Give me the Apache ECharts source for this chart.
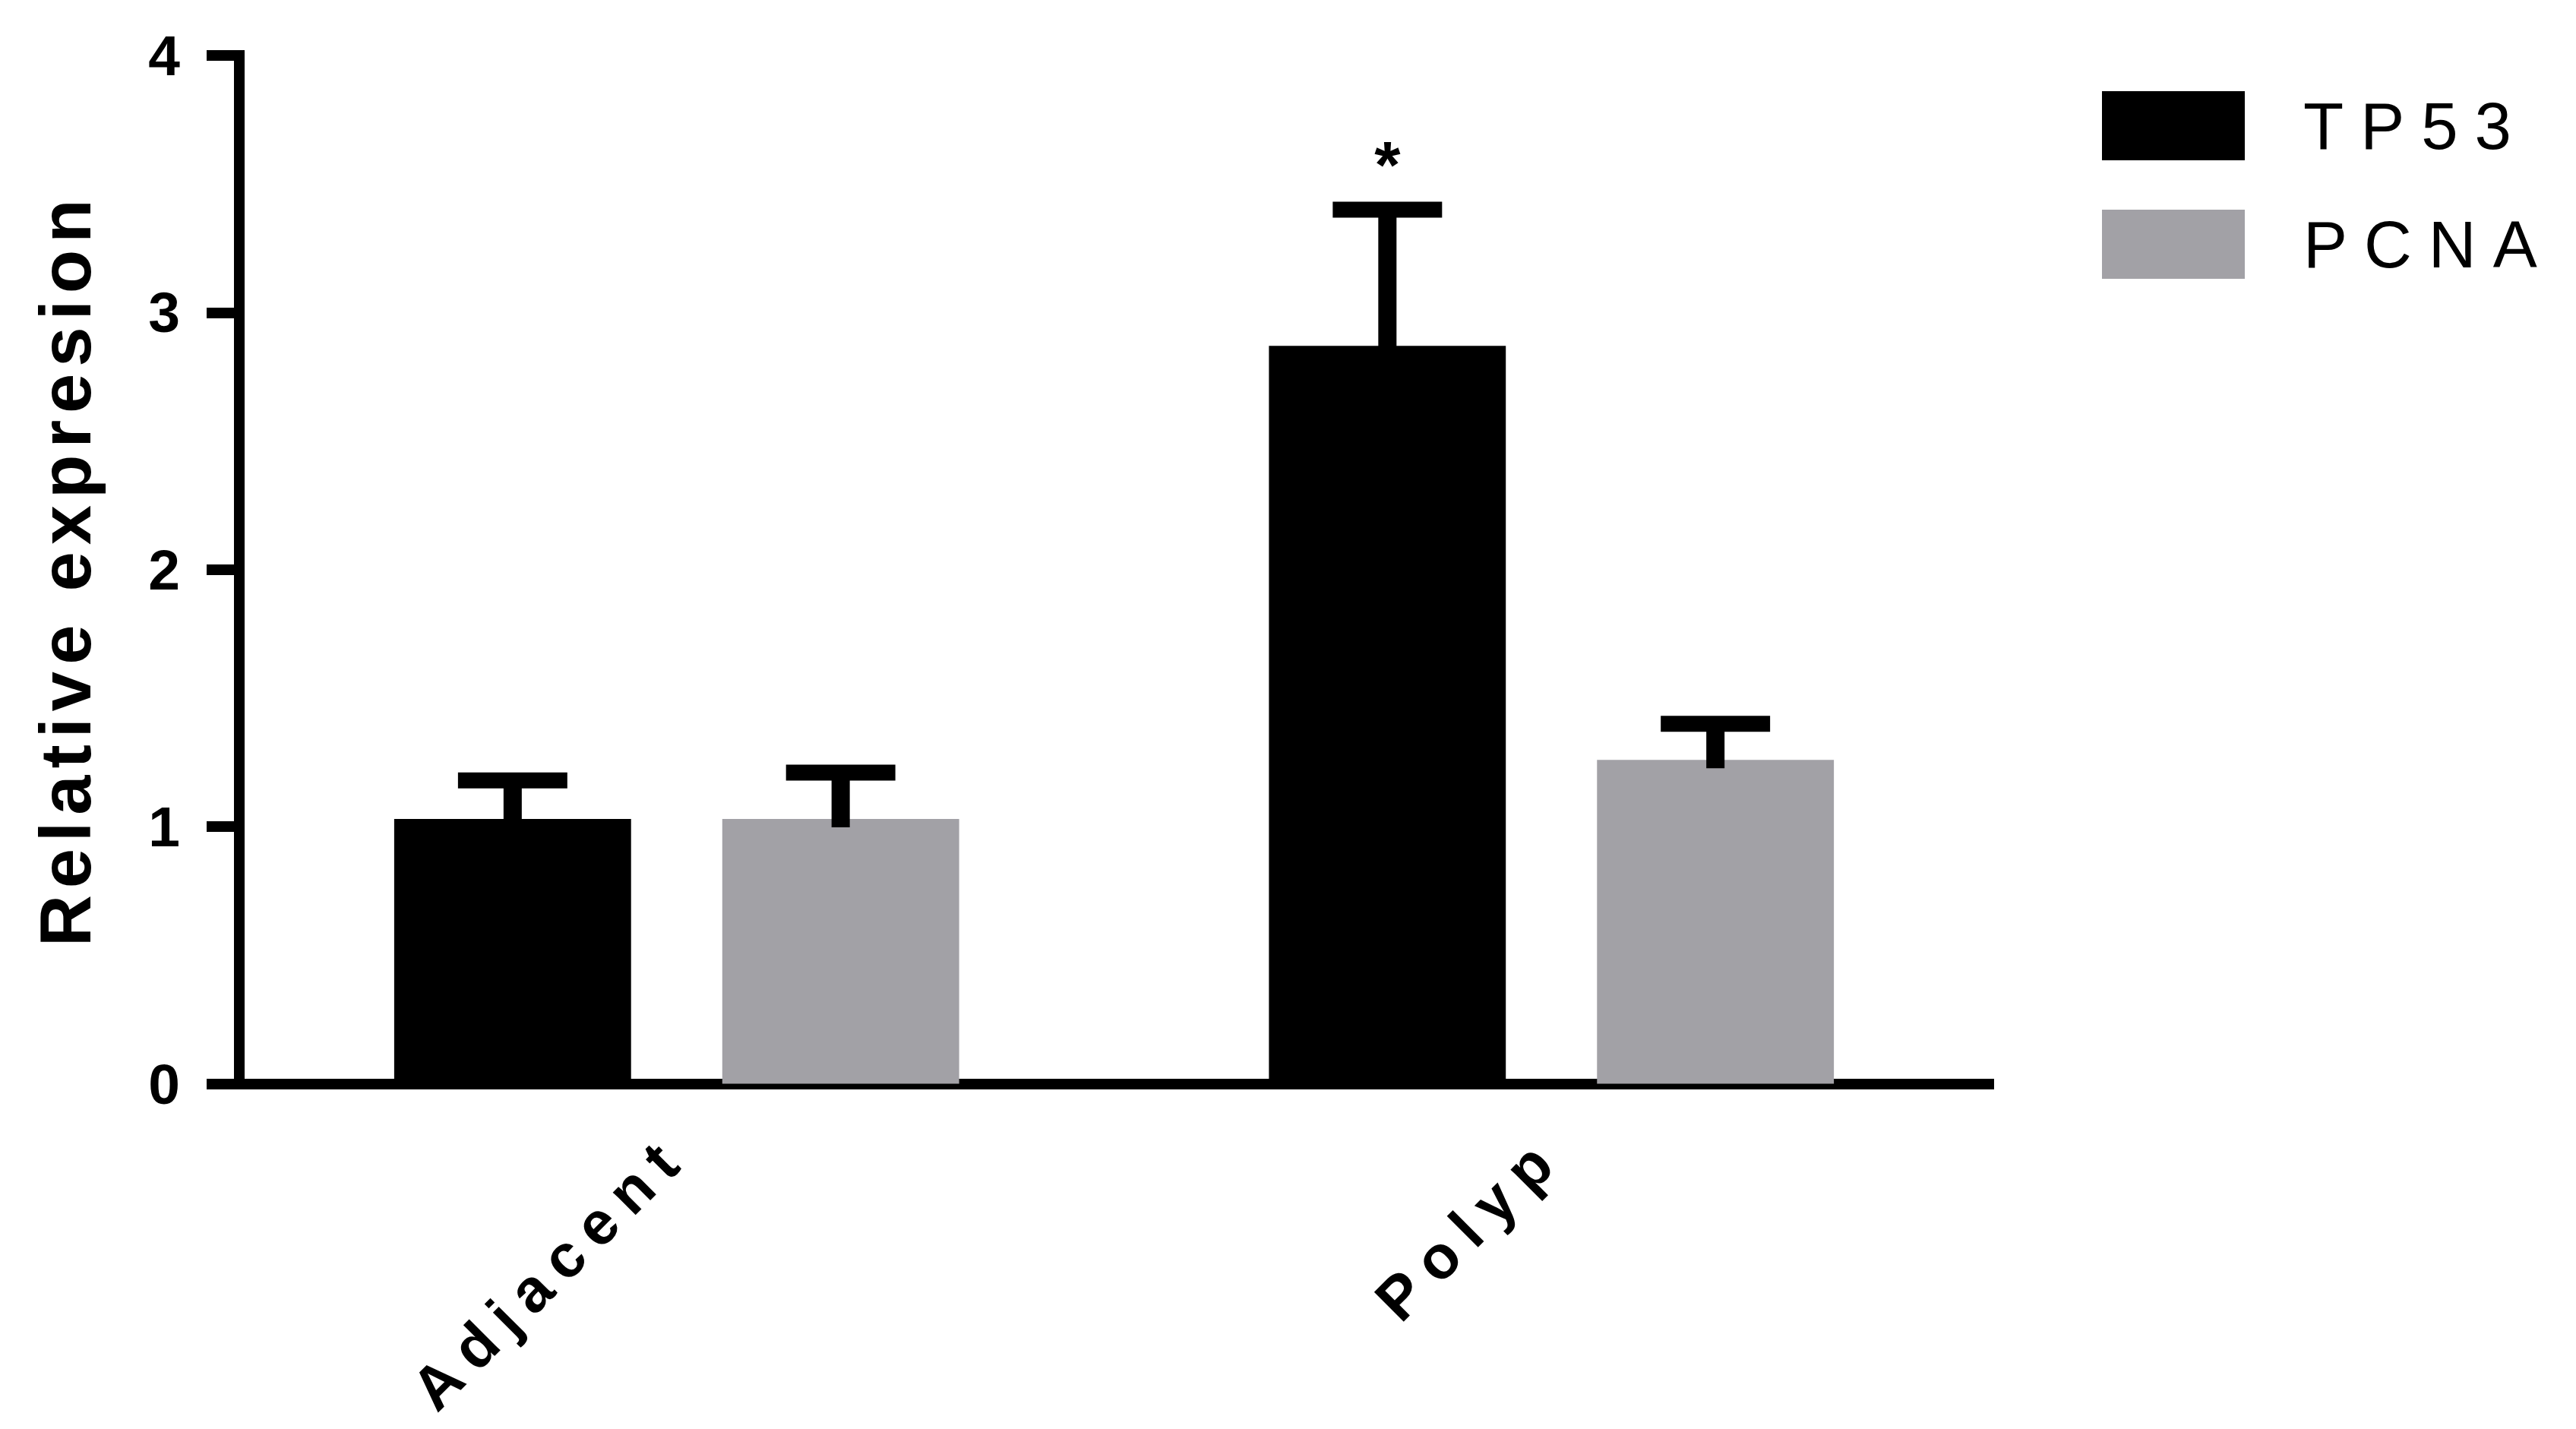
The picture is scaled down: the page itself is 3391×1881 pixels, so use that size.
<!DOCTYPE html>
<html><head><meta charset="utf-8">
<script src="https://cdn.jsdelivr.net/npm/echarts@6/dist/echarts.min.js"></script>
<style>html,body{margin:0;padding:0;background:#fff;}#main{width:3391px;height:1881px;}</style>
</head><body><div id="main"></div>
<script>
// ---- data ----
const categories = ['Adjacent', 'Polyp'];
const seriesNames = ['TP53', 'PCNA'];
const tp53Mean = [1.03, 2.87];
const tp53Err = [0.15, 0.53];
const pcnaMean = [1.03, 1.26];
const pcnaErr = [0.18, 0.14];
const tp53Marks = ['', '*'];
const pcnaMarks = ['', ''];
const yMin = 0, yMax = 4, yInterval = 1;
const yTitle = 'Relative expresion';

// ---- styling ----
const FONT = '"Liberation Sans", Arial, sans-serif';
const BLACK = '#000000';
const GRAY = '#a2a1a6';
const letterSpacing = { 'Relative expresion': 9, 'TP53': 22, 'PCNA': 22, 'Adjacent': 17, 'Polyp': 18 };

const chart = echarts.init(document.getElementById('main'), null, { renderer: 'svg', width: 3391, height: 1881 });

function errorSeries(name, means, errs, marks, offsetFrac) {
  return {
    type: 'custom',
    name: name + ' err',
    clip: false,
    z: 5,
    data: means.map((m, i) => [i, m, errs[i]]),
    renderItem: function (params, api) {
      const ci = api.value(0), m = api.value(1), e = api.value(2);
      const band = api.size([1, 0])[0];
      const base = api.coord([ci, m]);
      const top = api.coord([ci, m + e]);
      const x = base[0] + offsetFrac * band;
      const capW = band * 0.125, stemW = 24, capH = 21;
      const children = [
        { type: 'rect', shape: { x: x - stemW / 2, y: top[1], width: stemW, height: base[1] - top[1] + 11 }, style: { fill: BLACK } },
        { type: 'rect', shape: { x: x - capW / 2, y: top[1] - capH / 2, width: capW, height: capH }, style: { fill: BLACK } }
      ];
      const mk = marks[params.dataIndex];
      if (mk) {
        children.push({ type: 'text', x: x, y: top[1] - 60, style: { text: mk, fill: BLACK, font: 'bold 88px ' + FONT, textAlign: 'center', textVerticalAlign: 'middle' } });
      }
      return { type: 'group', children: children };
    }
  };
}

const option = {
  animation: false,
  backgroundColor: '#ffffff',
  grid: { left: 315, right: 773, top: 73, bottom: 454.5, containLabel: false },
  legend: {
    data: seriesNames, orient: 'vertical', left: 2762, top: 115,
    itemWidth: 188, itemHeight: 91, itemGap: 65, icon: 'rect', selectedMode: false,
    textStyle: { fontSize: 87, fontFamily: FONT, color: BLACK, padding: [0, 0, 0, 72] }
  },
  xAxis: {
    type: 'category', data: categories,
    axisLine: { lineStyle: { color: BLACK, width: 14, cap: 'square' } },
    axisTick: { alignWithLabel: true, length: 39, lineStyle: { color: BLACK, width: 15 } },
    axisLabel: { rotate: 45, interval: 0, margin: 80, fontSize: 80, fontWeight: 'bold', fontFamily: FONT, color: BLACK },
    splitLine: { show: false }
  },
  yAxis: {
    type: 'value', min: yMin, max: yMax, interval: yInterval,
    name: yTitle, nameLocation: 'middle', nameGap: 182,
    nameTextStyle: { fontSize: 94, fontWeight: 'bold', fontFamily: FONT, color: BLACK },
    axisLine: { show: true, lineStyle: { color: BLACK, width: 14, cap: 'square' } },
    axisTick: { show: true, length: 43, lineStyle: { color: BLACK, width: 14 } },
    axisLabel: { margin: 78, fontSize: 75, fontWeight: 'bold', fontFamily: FONT, color: BLACK },
    splitLine: { show: false }
  },
  series: [
    { type: 'bar', name: seriesNames[0], data: tp53Mean, barWidth: '27.08%', barGap: '38.5%', itemStyle: { color: BLACK }, z: 2 },
    { type: 'bar', name: seriesNames[1], data: pcnaMean, barWidth: '27.08%', barGap: '38.5%', itemStyle: { color: GRAY }, z: 2 },
    errorSeries(seriesNames[0], tp53Mean, tp53Err, tp53Marks, -0.1875),
    errorSeries(seriesNames[1], pcnaMean, pcnaErr, pcnaMarks, 0.1875)
  ]
};
chart.setOption(option);

function applySpacing() {
  document.querySelectorAll('#main svg text').forEach(t => {
    const s = letterSpacing[t.textContent.trim()];
    if (s != null && t.getAttribute('letter-spacing') !== String(s)) t.setAttribute('letter-spacing', String(s));
  });
}
applySpacing();
chart.on('finished', applySpacing);
setInterval(applySpacing, 50);
</script>
</body></html>
